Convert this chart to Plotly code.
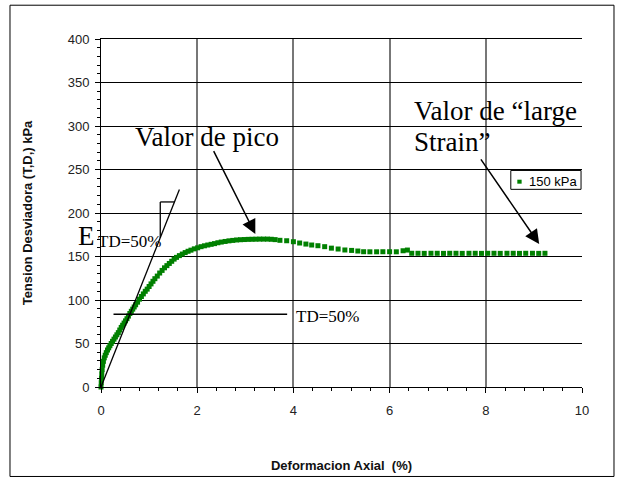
import plotly.graph_objects as go

# Triaxial test, confining pressure 150 kPa: axial strain (%) vs deviator stress (kPa)
strain = [
    0.000, 0.005, 0.010, 0.016, 0.024, 0.035, 0.050, 0.068, 0.088, 0.110,
    0.135, 0.160, 0.185, 0.212, 0.24, 0.27, 0.30, 0.33, 0.36, 0.39,
    0.42, 0.45, 0.48, 0.51, 0.54, 0.57, 0.60, 0.63, 0.66, 0.69,
    0.72, 0.76, 0.80, 0.84, 0.88, 0.92, 0.96, 1.00, 1.04, 1.08,
    1.12, 1.17, 1.22, 1.27, 1.32, 1.37, 1.42, 1.47, 1.52, 1.57,
    1.63, 1.69, 1.75, 1.81, 1.87, 1.94, 2.01, 2.08, 2.15, 2.22,
    2.29, 2.36, 2.43, 2.50, 2.58, 2.66, 2.74, 2.82, 2.90, 2.98,
    3.06, 3.14, 3.22, 3.30, 3.38, 3.46, 3.54, 3.62,
    3.72, 3.86, 4.00, 4.13, 4.26, 4.38, 4.51, 4.65, 4.79, 4.93,
    5.07, 5.21, 5.34, 5.46, 5.59, 5.73, 5.86, 6.00, 6.14, 6.28, 6.37,
    6.46, 6.59, 6.72, 6.86, 6.99, 7.12, 7.25, 7.38, 7.51, 7.65, 7.78,
    7.91, 8.04, 8.17, 8.30, 8.44, 8.57, 8.70, 8.83, 8.97, 9.10, 9.23,
]
stress = [
    0.0, 5.0, 10.0, 15.0, 20.0, 25.0, 29.5, 33.5, 36.5, 39.5,
    42.5, 45.0, 47.5, 50.0, 52.5, 55.0, 57.5, 60.0, 62.5, 65.5,
    68.5, 71.0, 73.5, 76.0, 78.5, 81.5, 84.5, 87.0, 89.5, 92.0,
    94.5, 97.5, 101.0, 104.0, 107.0, 110.0, 112.5, 115.5, 118.5, 121.5,
    124.5, 127.5, 131.0, 134.0, 137.0, 139.5, 142.0, 144.5, 147.0, 149.0,
    151.0, 152.8, 154.5, 156.0, 157.3, 158.8, 160.0, 161.3, 162.3, 163.2,
    164.0, 164.8, 165.8, 166.6, 167.3, 168.0, 168.5, 169.0, 169.3, 169.5,
    169.7, 169.8, 169.9, 170.0, 170.0, 170.0, 169.8, 169.4,
    168.6, 168.1, 167.0, 165.5, 164.3, 163.2, 162.4, 161.3, 159.6, 158.6,
    157.5, 157.0, 156.3, 155.5, 155.4, 155.4, 155.5, 155.5, 155.4, 156.6, 157.4,
    153.7, 153.7, 153.6, 153.7, 153.7, 153.6, 153.7, 153.7, 153.6, 153.7, 153.7,
    153.6, 153.7, 153.7, 153.6, 153.7, 153.7, 153.6, 153.7, 153.7, 153.6, 153.7,
]
series_name = "150 kPa"

x_ticks = [0, 2, 4, 6, 8, 10]
y_ticks = [0, 50, 100, 150, 200, 250, 300, 350, 400]

# Secant modulus construction at 50 % of the peak deviator stress
td50_level = 83.5
td50_from, td50_to = 0.26, 3.87
secant_top = (1.63, 227.0)
slope_leg_x = 1.232
slope_leg_top = 212.7

green = "#008000"
sans = "Liberation Sans"
serif = "Liberation Serif"

fig = go.Figure()
fig.add_trace(go.Scatter(
    x=strain, y=stress, name=series_name, mode="markers",
    marker=dict(symbol="square", size=5, color=green),
    showlegend=False, cliponaxis=False,
))

secant_slope = secant_top[1] / secant_top[0]
line_style = dict(color="black", width=1.3)
shapes = [
    # secant line through the origin
    dict(type="line", xref="x", yref="y", x0=0, y0=0,
         x1=secant_top[0], y1=secant_top[1], line=line_style),
    # 50 % stress level
    dict(type="line", xref="x", yref="y", x0=td50_from, y0=td50_level,
         x1=td50_to, y1=td50_level, line=dict(color="black", width=1.5)),
    # slope triangle
    dict(type="line", xref="x", yref="y", x0=slope_leg_x,
         y0=slope_leg_x * secant_slope, x1=slope_leg_x, y1=slope_leg_top,
         line=line_style),
    dict(type="line", xref="x", yref="y", x0=slope_leg_x, y0=slope_leg_top,
         x1=slope_leg_top / secant_slope, y1=slope_leg_top, line=line_style),
    # legend box
    dict(type="rect", xref="x", yref="y", x0=8.52, x1=9.98, y0=227.2, y1=248.9,
         fillcolor="white", line=dict(color="black", width=1), layer="above"),
    dict(type="rect", xref="x", yref="y", x0=8.655, x1=8.745, y0=233.7, y1=238.3,
         fillcolor=green, line=dict(width=0), layer="above"),
    # frame around the whole chart
    dict(type="rect", xref="paper", yref="paper", x0=-0.1892, x1=1.0665,
         y0=-0.2571, y1=1.0971, line=dict(color="black", width=1)),
]

serif_big = dict(family=serif, size=27, color="black")
serif_small = dict(family=serif, size=17, color="black")
annotations = [
    dict(x=2.196, y=287.9, text="Valor de pico", showarrow=False,
         xanchor="center", yanchor="middle", font=serif_big),
    dict(x=6.47, y=316.8, text="Valor de \u201clarge", showarrow=False,
         xanchor="left", yanchor="middle", font=serif_big),
    dict(x=6.47, y=281.4, text="Strain\u201d", showarrow=False,
         xanchor="left", yanchor="middle", font=serif_big),
    # E with its TD=50% subscript, straddling the y axis
    dict(x=-0.052, xref="paper", y=173.6, yref="y", text="E", showarrow=False,
         xanchor="left", yanchor="middle", font=serif_big),
    dict(x=-0.011, xref="paper", y=167.1, yref="y", text="TD=50%", showarrow=False,
         xanchor="left", yanchor="middle", font=serif_small),
    dict(x=4.006, y=80.6, text="TD=50%", showarrow=False,
         xanchor="left", yanchor="middle", font=serif_small),
    # arrows
    dict(x=3.209, y=175.8, ax=2.327, ay=272.9, xref="x", yref="y", axref="x", ayref="y",
         text="", showarrow=True, arrowhead=2, arrowsize=1.9, arrowwidth=1.5,
         arrowcolor="black"),
    dict(x=9.11, y=164.3, ax=7.877, ay=263.4, xref="x", yref="y", axref="x", ayref="y",
         text="", showarrow=True, arrowhead=2, arrowsize=1.9, arrowwidth=1.5,
         arrowcolor="black"),
    # legend text
    dict(x=8.86, y=236.0, text=series_name, showarrow=False, xanchor="left",
         yanchor="middle", font=dict(family=sans, size=13, color="black")),
]

fig.update_layout(
    width=624, height=483, autosize=False,
    margin=dict(l=101, r=42, t=39, b=94, pad=0),
    paper_bgcolor="white", plot_bgcolor="white",
    shapes=shapes, annotations=annotations,
    showlegend=False,
    font=dict(family=sans, size=13, color="#222"),
)
fig.update_xaxes(
    range=[0, 10], tickvals=x_ticks, ticktext=[str(v) for v in x_ticks],
    showgrid=True, gridcolor="#777777", gridwidth=1.5,
    showline=True, linecolor="black", linewidth=1, mirror=True,
    ticks="outside", ticklen=5, tickcolor="black", tickwidth=1,
    minor=dict(dtick=0.4, ticks="outside", ticklen=3, tickcolor="black", showgrid=False),
    zeroline=False, ticklabelstandoff=6,
    tickfont=dict(family=sans, size=13, color="#222"),
    title=dict(text="<b>Deformacion Axial\u00a0 (%)</b>", standoff=44,
               font=dict(family=sans, size=13, color="#111")),
)
fig.update_yaxes(
    range=[0, 400], tickvals=y_ticks, ticktext=[str(v) for v in y_ticks],
    showgrid=True, gridcolor="black", gridwidth=1,
    showline=True, linecolor="black", linewidth=1,
    ticks="outside", ticklen=5, tickcolor="black", tickwidth=1,
    minor=dict(dtick=10, ticks="outside", ticklen=3, tickcolor="black", showgrid=False),
    zeroline=False, ticklabelstandoff=3,
    tickfont=dict(family=sans, size=13, color="#222"),
    title=dict(text="<b>Tension Desviadora (T,D,) kPa</b>", standoff=32,
               font=dict(family=sans, size=13, color="#111")),
)

fig.write_html("out.html")
